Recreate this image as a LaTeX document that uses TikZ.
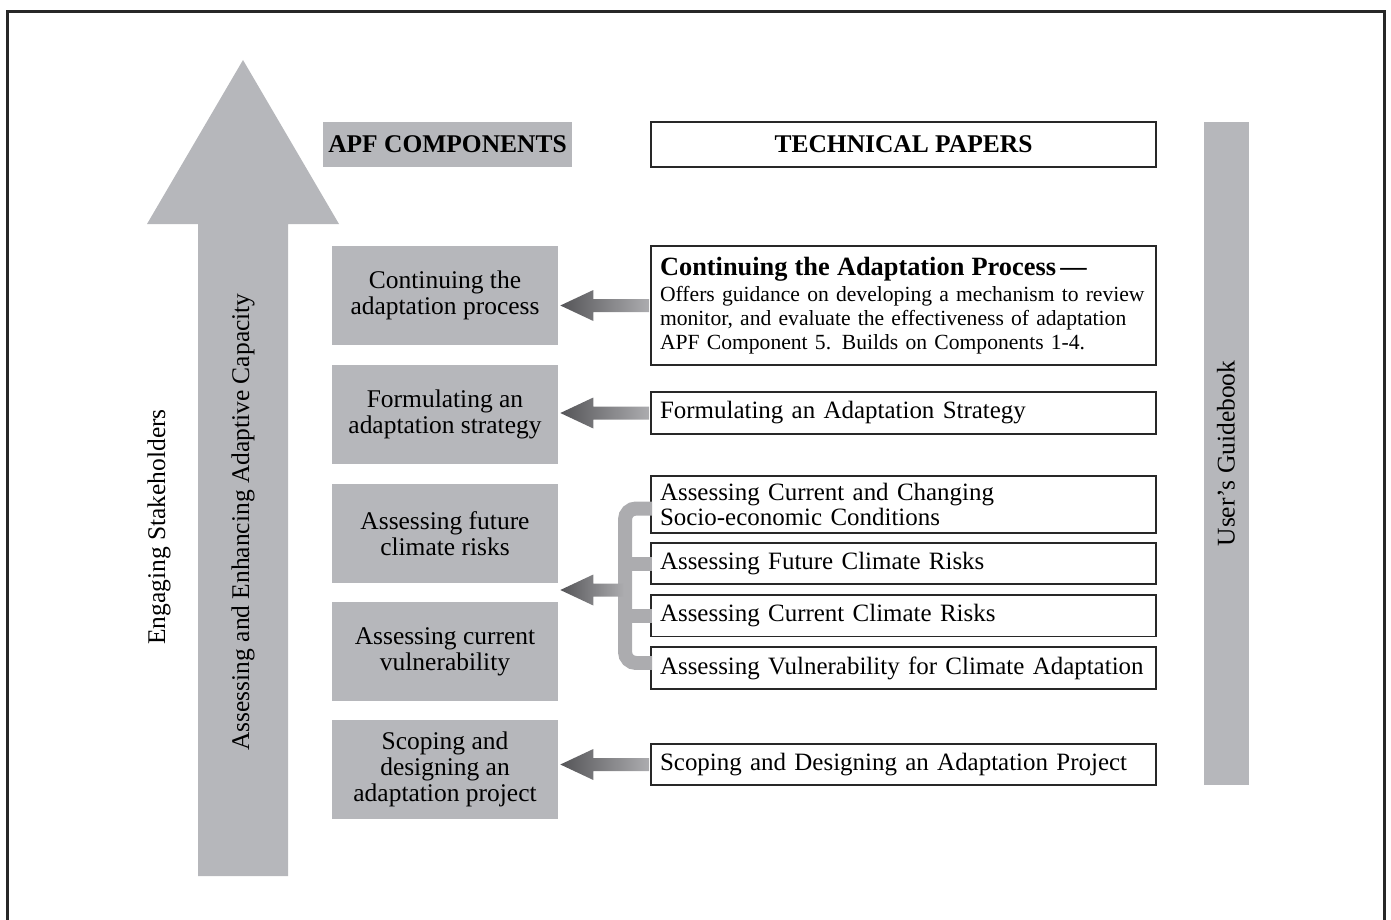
\documentclass[tikz,border=0pt]{standalone}
\usepackage{fontspec}
\setmainfont{Liberation Serif}
\usetikzlibrary{positioning, calc}
\definecolor{boxgray}{RGB}{182,183,187}
\definecolor{arrdark}{RGB}{85,85,88}
\definecolor{arrlight}{RGB}{172,172,175}
\definecolor{framegray}{RGB}{40,40,40}
\tikzset{
  txt/.style={font=\fontsize{14.5}{14.6}\selectfont, inner sep=0pt},
  comp/.style={txt, fill=boxgray, minimum width=4.52cm, minimum height=1.98cm, align=center},
  paper/.style={txt, font=\fontsize{14.2}{14.6}\selectfont, draw=framegray, line width=1pt, fill=white,
    minimum width=10.1cm, minimum height=0.83cm, text width=9.74cm, inner xsep=0.18cm, align=left},
  head/.style={txt, minimum width=4.98cm, minimum height=0.9cm, font=\fontsize{14.5}{14.6}\selectfont\bfseries},
  bracket/.style={line width=0.28cm, draw=arrlight, rounded corners=0.22cm}
}
% fat shaded arrow from #1 to the east side of #2
\newcommand{\fatarrow}[2]{%
  \shade[left color=arrdark, right color=arrlight]
    ($(#1.west)+(-1,-6.5)$) -- ($(#2.east |- #1.west)+(35,-6.5)$) -- ($(#2.east |- #1.west)+(35,-15.5)$)
    -- ($(#2.east |- #1.west)+(2,0)$) -- ($(#2.east |- #1.west)+(35,15.5)$)
    -- ($(#2.east |- #1.west)+(35,6.5)$) -- ($(#1.west)+(-1,6.5)$) -- cycle;}
\begin{document}
\begin{tikzpicture}[x=0.02cm, y=-0.02cm]
\useasboundingbox (0,0) rectangle (1391,919);
\draw[line width=1.7pt, framegray] (7.5,940) |- (1384,11.5) -- (1384,940);

% big upward arrow
\fill[boxgray] (198,876) -- (198,224) -- (147,224) -- (243,60) -- (339,224) -- (288,224) -- (288,876) -- cycle;
\node[txt, rotate=90] (engage) at (159,527) {Engaging Stakeholders};
\node[txt, rotate=90] (capacity) at (243,522) {Assessing and Enhancing Adaptive Capacity};

% headings
\node[head, fill=boxgray] (apf) at (447.5,144.5) {APF COMPONENTS};
\node[head, draw=framegray, line width=1pt, minimum width=10.1cm] (tech) at (903.5,144.5) {TECHNICAL PAPERS};
\node[txt, fill=boxgray, minimum width=0.9cm, minimum height=13.26cm] (guide) at (1226,453.5) {};
\node[txt, rotate=90] (guidetxt) at (guide.center) {User's Guidebook};

% APF components
\node[comp] (c5) at (445,295.5) {Continuing the\\adaptation process};
\node[comp, below=0.38cm of c5] (c4) {Formulating an\\adaptation strategy};
\node[comp, below=0.4cm of c4] (c3) {Assessing future\\climate risks};
\node[comp, below=0.36cm of c3] (c2) {Assessing current\\vulnerability};
\node[comp, below=0.36cm of c2] (c1) {Scoping and\\designing an\\adaptation project};

% technical papers
\node[paper, minimum height=2.38cm, font=\fontsize{12.3}{13.6}\selectfont] (tp5) at (903.5,305.5)
  {{\fontsize{15}{13.6}\selectfont\bfseries Continuing the Adaptation Process\,---}\\[1.7pt]
  \mbox{Offers guidance on developing a mechanism to review}\\
  \mbox{monitor, and evaluate the effectiveness of adaptation}\\
  APF Component 5. Builds on Components 1-4.\\[-4pt]};
\node[paper] (tp4) at (903.5,413) {Formulating an Adaptation Strategy};
\node[paper, minimum height=1.14cm] (tp3a) at (903.5,504.5) {Assessing Current and Changing\\Socio-economic Conditions};
\node[paper, below=0.16cm of tp3a] (tp3b) {Assessing Future Climate Risks};
\node[paper, below=0.18cm of tp3b] (tp2a) {Assessing Current Climate Risks};
\node[paper, below=0.18cm of tp2a] (tp2b) {Assessing Vulnerability for Climate Adaptation};
\node[paper] (tp1) at (903.5,764.5) {Scoping and Designing an Adaptation Project};

% connectors
\coordinate (brk) at (625,590);
\draw[bracket] ($(tp3a.west)+(2,4)$) -| (brk) |- ($(tp2b.west)+(2,-5)$);
\draw[bracket, rounded corners=0] ($(tp3b.west)+(2,0)$) -- (tp3b.west -| brk);
\draw[bracket, rounded corners=0] ($(tp2a.west)+(2,0)$) -- (tp2a.west -| brk);
\fatarrow{tp5}{c5}
\fatarrow{tp4}{c4}
\fatarrow{brk}{c3}
\fatarrow{tp1}{c1}
\end{tikzpicture}
\end{document}
